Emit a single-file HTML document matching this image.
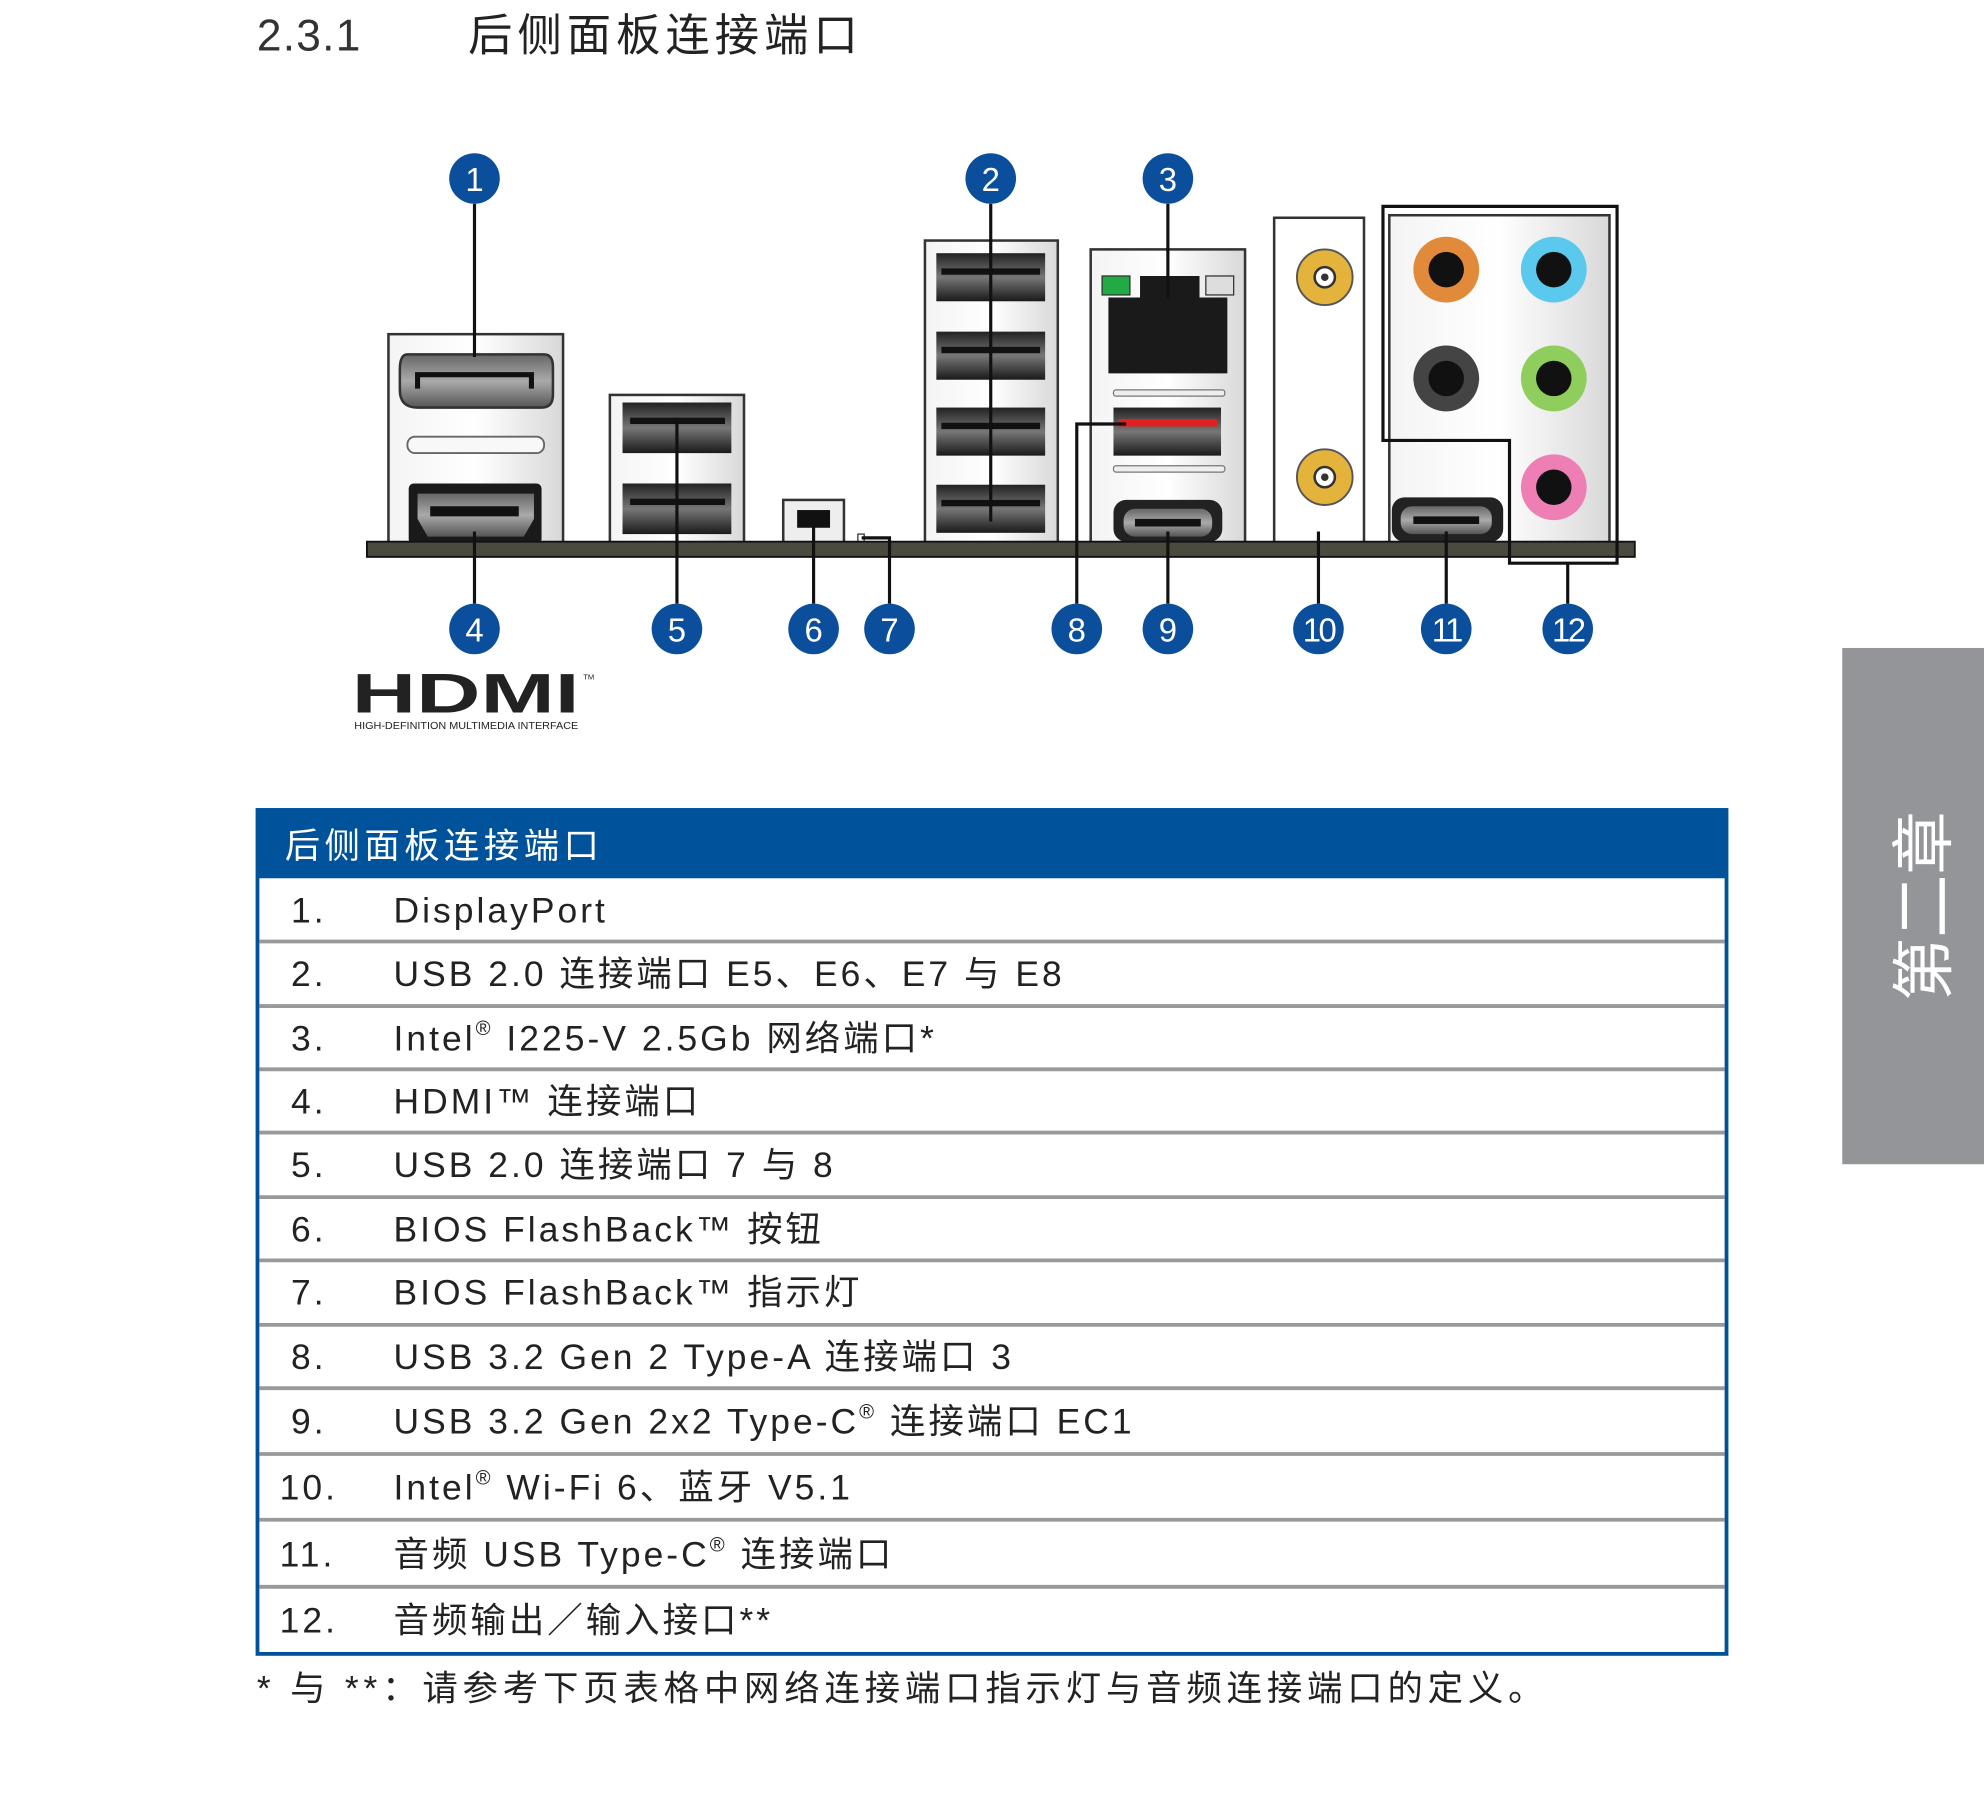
<!DOCTYPE html>
<html><head><meta charset="utf-8"><style>
html,body{margin:0;padding:0;background:#fff;}
svg{display:block;}
text{font-family:"Liberation Sans","Noto Sans CJK SC",sans-serif;}
</style></head><body>
<svg width="1984" height="1797" viewBox="0 0 1568 1420" xmlns="http://www.w3.org/2000/svg">
<defs>
<linearGradient id="usb" x1="0" y1="0" x2="0" y2="1"><stop offset="0" stop-color="#222"/><stop offset="0.5" stop-color="#777"/><stop offset="1" stop-color="#1a1a1a"/></linearGradient>
<linearGradient id="pan" x1="0" y1="0" x2="1" y2="0"><stop offset="0" stop-color="#f4f4f4"/><stop offset="0.5" stop-color="#fff"/><stop offset="1" stop-color="#d8d8d8"/></linearGradient>
<linearGradient id="gp" x1="0" y1="0" x2="0" y2="1"><stop offset="0" stop-color="#666"/><stop offset="0.5" stop-color="#aaa"/><stop offset="1" stop-color="#555"/></linearGradient>
</defs>
<text x="203" y="40" font-size="35" fill="#333" letter-spacing="1">2.3.1</text>
<text x="370" y="40" font-size="35" fill="#222" letter-spacing="4">后侧面板连接端口</text>

<g stroke="#333" stroke-width="2">
<rect x="307" y="264" width="138" height="166" fill="url(#pan)"/>
<rect x="482" y="312" width="106" height="118" fill="url(#pan)"/>
<rect x="731" y="190" width="105" height="240" fill="url(#pan)"/>
<rect x="862" y="197" width="122" height="233" fill="url(#pan)"/>
<rect x="1007" y="172" width="71" height="258" fill="#fff"/>
<rect x="1098" y="170" width="174" height="260" fill="url(#pan)"/>
<rect x="619" y="395" width="48" height="35" fill="#eee"/>
</g>
<path d="M322,280 H430 Q437,280 437,290 V312 Q437,322 428,322 H330 Q316,322 316,308 V292 Q316,280 322,280Z" fill="url(#gp)" stroke="#333" stroke-width="2"/>
<path d="M330,307 V296 H420 V307" fill="none" stroke="#111" stroke-width="4"/>
<rect x="322" y="345" width="108" height="13" rx="6" fill="#f8f8f8" stroke="#666" stroke-width="1.5"/>
<rect x="323" y="382" width="105" height="48" rx="4" fill="#1a1a1a"/>
<path d="M330,390 H422 V410 L414,424 H338 L330,410Z" fill="url(#gp)"/>
<rect x="340" y="400" width="70" height="8" fill="#111"/>
<rect x="492" y="318" width="86" height="40" fill="url(#usb)"/>
<rect x="492" y="382" width="86" height="40" fill="url(#usb)"/>
<rect x="498" y="330" width="75" height="5" fill="#111"/><rect x="498" y="394" width="75" height="5" fill="#111"/>
<rect x="630" y="403" width="26" height="14" fill="#111"/>
<rect x="678" y="422" width="5" height="6" fill="#fff" stroke="#333"/>
<g fill="url(#usb)">
<rect x="740" y="200" width="86" height="38"/><rect x="740" y="262" width="86" height="38"/>
<rect x="740" y="322" width="86" height="38"/><rect x="740" y="383" width="86" height="38"/></g>
<g fill="#111"><rect x="744" y="212" width="78" height="5"/><rect x="744" y="274" width="78" height="5"/><rect x="744" y="334" width="78" height="5"/><rect x="744" y="395" width="78" height="5"/></g>
<path d="M876,235 H901 V218 H948 V235 H970 V295 H876Z" fill="#1a1a1a"/>
<rect x="871" y="218" width="22" height="15" fill="#22aa44" stroke="#333"/>
<rect x="953" y="218" width="22" height="15" fill="#ddd" stroke="#333"/>
<rect x="880" y="308" width="88" height="5" rx="2" fill="#eee" stroke="#777"/>
<rect x="880" y="322" width="85" height="38" fill="url(#usb)"/>
<rect x="884" y="331" width="78" height="6" fill="#e02020"/>
<rect x="880" y="368" width="88" height="5" rx="2" fill="#eee" stroke="#777"/>
<rect x="880" y="395" width="86" height="33" rx="10" fill="#222"/>
<rect x="888" y="402" width="70" height="22" rx="9" fill="url(#gp)"/>
<rect x="897" y="410" width="52" height="6" fill="#111"/>
<g fill="#e3b33c" stroke="#555" stroke-width="1.5">
<circle cx="1047" cy="219" r="22"/><circle cx="1047" cy="377" r="22"/></g>
<g fill="#fff" stroke="#333" stroke-width="2"><circle cx="1047" cy="219" r="8"/><circle cx="1047" cy="377" r="8"/></g>
<circle cx="1047" cy="219" r="3" fill="#333"/><circle cx="1047" cy="377" r="3" fill="#333"/>
<circle cx="1143" cy="213" r="26" fill="#e08a3a"/><circle cx="1228" cy="213" r="26" fill="#5bc8ee"/>
<circle cx="1143" cy="299" r="26" fill="#444"/><circle cx="1228" cy="299" r="26" fill="#8fce5c"/>
<circle cx="1228" cy="385" r="26" fill="#ee7fb5"/>
<g fill="#111"><circle cx="1143" cy="213" r="14"/><circle cx="1228" cy="213" r="14"/><circle cx="1143" cy="299" r="14"/><circle cx="1228" cy="299" r="14"/><circle cx="1228" cy="385" r="14"/></g>
<rect x="1100" y="393" width="88" height="35" rx="10" fill="#222"/>
<rect x="1107" y="400" width="72" height="22" rx="9" fill="url(#gp)"/>
<rect x="1117" y="408" width="52" height="6" fill="#111"/>
<rect x="290" y="428" width="1002" height="12" fill="#4a4a3f" stroke="#111" stroke-width="1.5"/>
<g stroke="#111" stroke-width="2.5" fill="none">
<path d="M375,161V282"/><path d="M783,161V412"/><path d="M923,161V236"/>
<path d="M375,420V477"/><path d="M535,330V477"/><path d="M643,410V477"/>
<path d="M681,425H703V477"/><path d="M851,477V335H890"/><path d="M923,420V477"/>
<path d="M1042,420V477"/><path d="M1143,420V477"/><path d="M1239,445V477"/>
<path d="M1093,163H1278V445H1193V348H1093Z"/>
</g>
<g fill="#0b4f9c">
<circle cx="375" cy="141" r="20"/><circle cx="783" cy="141" r="20"/><circle cx="923" cy="141" r="20"/>
<circle cx="375" cy="497" r="20"/><circle cx="535" cy="497" r="20"/><circle cx="643" cy="497" r="20"/><circle cx="703" cy="497" r="20"/>
<circle cx="851" cy="497" r="20"/><circle cx="923" cy="497" r="20"/><circle cx="1042" cy="497" r="20"/><circle cx="1143" cy="497" r="20"/><circle cx="1239" cy="497" r="20"/>
</g>
<g fill="#fff" font-size="26" text-anchor="middle">
<text x="375" y="151">1</text><text x="783" y="151">2</text><text x="923" y="151">3</text>
<text x="375" y="507">4</text><text x="535" y="507">5</text><text x="643" y="507">6</text><text x="703" y="507">7</text>
<text x="851" y="507">8</text><text x="923" y="507">9</text><text x="1042" y="507" letter-spacing="-2">10</text><text x="1143" y="507" letter-spacing="-2">11</text><text x="1239" y="507" letter-spacing="-2">12</text>
</g>
<text x="278" y="563" font-size="44" font-weight="bold" fill="#222" textLength="180" lengthAdjust="spacingAndGlyphs">HDMI</text>
<text x="461" y="537" font-size="6" fill="#222">TM</text>
<text x="280" y="576" font-size="8" fill="#222" textLength="177" lengthAdjust="spacingAndGlyphs">HIGH-DEFINITION MULTIMEDIA INTERFACE</text>

<rect x="203" y="640" width="1162" height="54" fill="#00539b"/>
<text x="225" y="678" font-size="28" fill="#fff" letter-spacing="3.5">后侧面板连接端口</text>
<rect x="203.5" y="640" width="1161" height="667" fill="none" stroke="#00539b" stroke-width="3"/>
<g stroke="#999" stroke-width="3">
<line x1="205" y1="744" x2="1363" y2="744"/><line x1="205" y1="795" x2="1363" y2="795"/><line x1="205" y1="845" x2="1363" y2="845"/>
<line x1="205" y1="895" x2="1363" y2="895"/><line x1="205" y1="946" x2="1363" y2="946"/><line x1="205" y1="996" x2="1363" y2="996"/>
<line x1="205" y1="1047" x2="1363" y2="1047"/><line x1="205" y1="1097" x2="1363" y2="1097"/><line x1="205" y1="1149" x2="1363" y2="1149"/>
<line x1="205" y1="1201" x2="1363" y2="1201"/><line x1="205" y1="1254" x2="1363" y2="1254"/>
</g>
<g font-size="28" fill="#222" letter-spacing="2.4">
<text x="230" y="729">1.</text><text x="311" y="729">DisplayPort</text>
<text x="230" y="779">2.</text><text x="311" y="779">USB 2.0 连接端口 E5、E6、E7 与 E8</text>
<text x="230" y="830">3.</text><text x="311" y="830">Intel<tspan font-size="16" dy="-12">®</tspan><tspan dy="12"> I225-V 2.5Gb 网络端口*</tspan></text>
<text x="230" y="880">4.</text><text x="311" y="880">HDMI™ 连接端口</text>
<text x="230" y="930">5.</text><text x="311" y="930">USB 2.0 连接端口 7 与 8</text>
<text x="230" y="981">6.</text><text x="311" y="981">BIOS FlashBack™ 按钮</text>
<text x="230" y="1031">7.</text><text x="311" y="1031">BIOS FlashBack™ 指示灯</text>
<text x="230" y="1082">8.</text><text x="311" y="1082">USB 3.2 Gen 2 Type-A 连接端口 3</text>
<text x="230" y="1133">9.</text><text x="311" y="1133">USB 3.2 Gen 2x2 Type-C<tspan font-size="16" dy="-12">®</tspan><tspan dy="12"> 连接端口 EC1</tspan></text>
<text x="221" y="1185">10.</text><text x="311" y="1185">Intel<tspan font-size="16" dy="-12">®</tspan><tspan dy="12"> Wi-Fi 6、蓝牙 V5.1</tspan></text>
<text x="221" y="1238">11.</text><text x="311" y="1238">音频 USB Type-C<tspan font-size="16" dy="-12">®</tspan><tspan dy="12"> 连接端口</tspan></text>
<text x="221" y="1290">12.</text><text x="311" y="1290">音频输出／输入接口**</text>
</g>
<text x="203" y="1344" font-size="28" fill="#222" letter-spacing="3.8">* 与 **：请参考下页表格中网络连接端口指示灯与音频连接端口的定义。</text>

<rect x="1456" y="512" width="112" height="408" fill="#939598"/>
<text transform="translate(1538,716) rotate(-90)" font-size="50" fill="#fff" text-anchor="middle">第二章</text>
</svg>
</body></html>
